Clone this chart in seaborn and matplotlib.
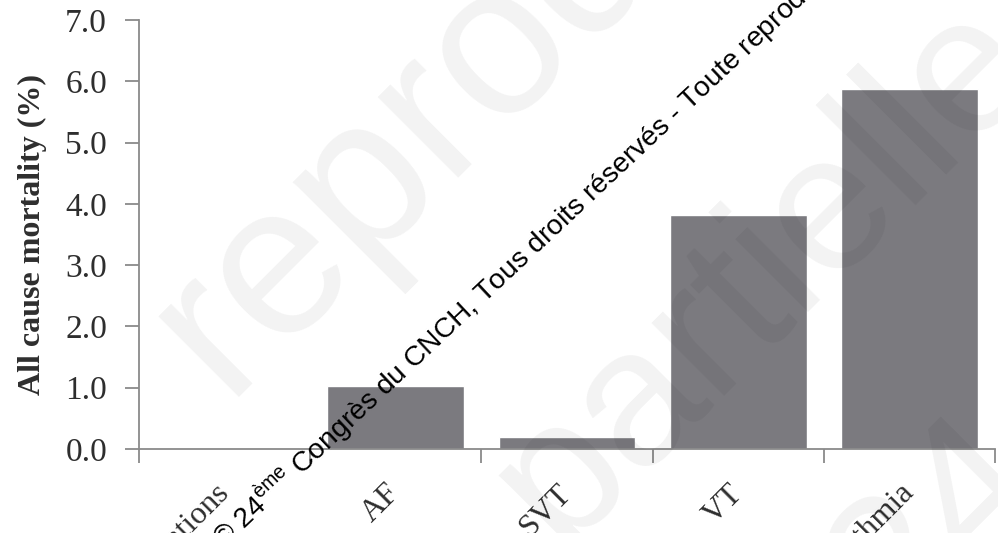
import matplotlib
matplotlib.use("Agg")
import matplotlib.pyplot as plt
import seaborn as sns
import numpy as np

# Data
categories = ["No complications", "AF", "SVT", "VT", "Any arrhythmia"]
mortality = [0.0, 1.02, 0.20, 3.82, 5.87]
y_ticks = [0, 1, 2, 3, 4, 5, 6, 7]
y_tick_labels = ["0.0", "1.0", "2.0", "3.0", "4.0", "5.0", "6.0", "7.0"]
y_label = "All cause mortality (%)"

bar_color = "#7b7a7f"
axis_color = "#8a8a8a"
text_color = "#2e2e2e"

sns.set_theme(style="white")
plt.rcParams["font.family"] = ["Liberation Serif", "DejaVu Serif"]
plt.rcParams["mathtext.fontset"] = "custom"
plt.rcParams["mathtext.rm"] = "Liberation Sans"

fig = plt.figure(figsize=(9.98, 5.33), dpi=100)
ax = fig.add_axes([0.1393, 0.1576, 0.8577, 0.8049])

sns.barplot(x=categories, y=mortality, color=bar_color, width=0.8,
            saturation=1, ax=ax, zorder=2)

ax.set_xlim(-0.5, len(categories) - 0.5)
ax.set_ylim(0, 7)

for side in ["top", "right"]:
    ax.spines[side].set_visible(False)
for side in ["left", "bottom"]:
    ax.spines[side].set_color(axis_color)
    ax.spines[side].set_linewidth(1.3)

ax.set_yticks(y_ticks)
ax.set_yticklabels(y_tick_labels, fontsize=24, color=text_color)
ax.tick_params(axis="y", direction="out", length=10, width=1.3,
               color=axis_color, pad=13, left=True)

# category labels at bar centres, tick marks at the category boundaries
ax.set_xticks(np.arange(len(categories)))
ax.set_xticklabels(categories, fontsize=23, color=text_color, rotation=45,
                   ha="right", va="center", rotation_mode="anchor")
ax.tick_params(axis="x", which="major", length=0, pad=29)
ax.set_xticks(np.arange(len(categories) + 1) - 0.5, minor=True)
ax.tick_params(axis="x", which="minor", direction="out", length=10,
               width=1.3, color=axis_color, bottom=True)
ax.set_xlabel("")

ax.set_ylabel(y_label, fontsize=23, fontweight="bold", color=text_color,
              labelpad=13)

# faint background watermark
for txt, x, y, size in [("reproduction", 0.225, 0.255, 155),
                        ("partielle", 0.56, -0.03, 140),
                        ("24e", 0.90, -0.20, 140)]:
    fig.text(x, y, txt, fontsize=size, family="Liberation Sans",
             rotation=45, rotation_mode="anchor", ha="left", va="baseline",
             color="black", alpha=0.05, zorder=5)

# copyright line
fig.text(0.224, 1 - 549 / 533,
         "© 24$^{\\mathrm{ème}}$ Congrès du CNCH, Tous droits réservés - Toute reproduction",
         fontsize=20.3, family="Liberation Sans", color="black",
         rotation=43.2, rotation_mode="anchor", ha="left", va="baseline",
         zorder=6)

fig.savefig("out.png", dpi=100)
